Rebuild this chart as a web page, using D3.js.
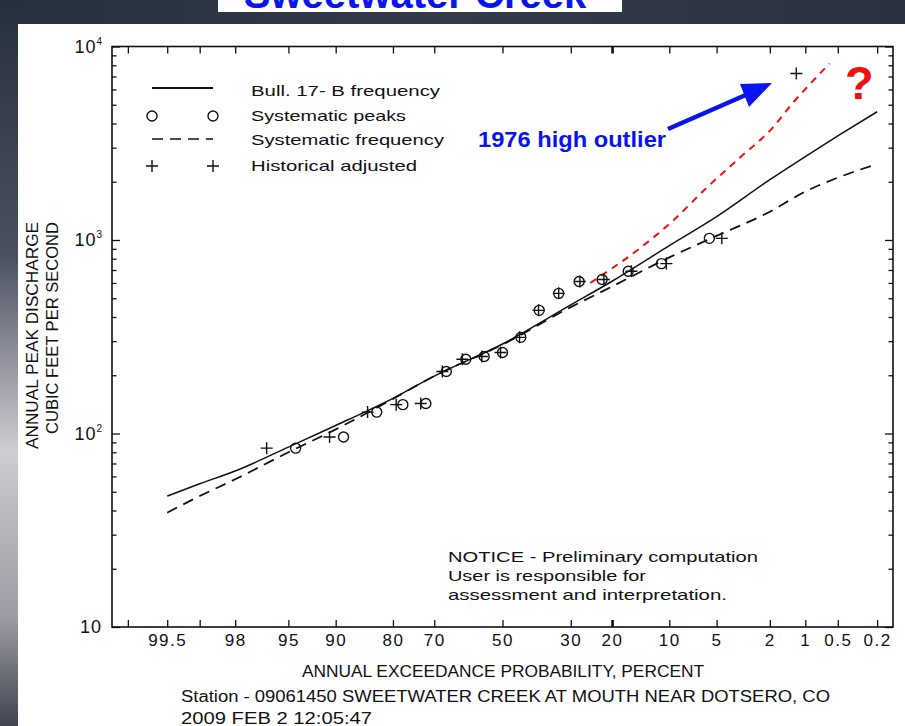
<!DOCTYPE html>
<html>
<head>
<meta charset="utf-8">
<script src="https://cdn.jsdelivr.net/npm/d3@7"></script>
<style>
  body { margin: 0; background: #fff; }
  svg { display: block; font-family: "Liberation Sans", Arial, sans-serif; }
</style>
</head>
<body>
<div id="chart"></div>
<script>
// frequency curves, read at the probability ticks (exceedance %, cfs)
const freqPct = [99.5, 99, 98, 95, 90, 80, 70, 50, 30, 20, 10, 5, 2, 1, 0.5, 0.2];
const bull17b = [47.5, 55, 64, 85, 110, 152, 198, 290, 462, 612, 935, 1320, 2050, 2700, 3450, 4600];
const sysFreq = [39, 47.5, 58, 80, 105, 151, 198, 288, 450, 575, 813, 1050, 1400, 1780, 2100, 2470];

// systematic peaks (circles)
const sysPeakPct = [5.6, 11.1, 16.7, 22.2, 27.8, 33.3, 38.9, 44.4, 50, 55.6, 61.1, 66.7, 72.2, 77.8, 83.3, 88.9, 94.4];
const sysPeakCfs = [1020, 755, 690, 625, 610, 530, 433, 314, 262, 250, 242, 209, 143, 141, 129, 96, 84];

// historically adjusted peaks (plus signs), incl. 1976 outlier
const histPct = [1.2, 4.6, 10.4, 16.1, 21.8, 27.6, 33.3, 39.1, 44.8, 50.6, 56.3, 62.1, 67.8, 73.5, 79.3, 85.0, 90.8, 96.5];
const histCfs = [7250, 1020, 755, 690, 625, 610, 530, 433, 314, 262, 250, 242, 209, 143, 141, 129, 96, 84];

// red hand-drawn "what if" curve
const redPct = [25, 14.6, 9.5, 5.8, 3.4, 1.9, 1.3, 0.9, 0.6];
const redCfs = [600, 905, 1260, 1870, 2670, 3800, 5070, 6430, 8170];

const xTickPct = [99.8, 99.5, 99, 98, 95, 90, 80, 70, 50, 30, 20, 10, 5, 2, 1, 0.5, 0.2];
const xTickLabels = ["", "99.5", "", "98", "95", "90", "80", "70", "50", "30", "20", "10", "5", "2", "1", "0.5", "0.2"];
const yDecades = [10, 100, 1000, 10000];
const yDecadeExp = ["", "2", "3", "4"];

const W = 905, H = 726;
const plot = { left: 112, right: 893, top: 46.5, bottom: 627 };

// inverse standard normal (Acklam)
function probit(p) {
  const a = [-3.969683028665376e+01, 2.209460984245205e+02, -2.759285104469687e+02, 1.383577518672690e+02, -3.066479806614716e+01, 2.506628277459239e+00];
  const b = [-5.447609879822406e+01, 1.615858368580409e+02, -1.556989798598866e+02, 6.680131188771972e+01, -1.328068155288572e+01];
  const c = [-7.784894002430293e-03, -3.223964580411365e-01, -2.400758277161838e+00, -2.549671010029312e+00, 4.374664141464968e+00, 2.938163982698783e+00];
  const d = [7.784695709041462e-03, 3.224671290700398e-01, 2.445134137142996e+00, 3.754408661907416e+00];
  const plow = 0.02425;
  let q, r;
  if (p < plow) {
    q = Math.sqrt(-2 * Math.log(p));
    return (((((c[0]*q+c[1])*q+c[2])*q+c[3])*q+c[4])*q+c[5]) / ((((d[0]*q+d[1])*q+d[2])*q+d[3])*q+1);
  }
  if (p > 1 - plow) {
    q = Math.sqrt(-2 * Math.log(1 - p));
    return -(((((c[0]*q+c[1])*q+c[2])*q+c[3])*q+c[4])*q+c[5]) / ((((d[0]*q+d[1])*q+d[2])*q+d[3])*q+1);
  }
  q = p - 0.5; r = q * q;
  return (((((a[0]*r+a[1])*r+a[2])*r+a[3])*r+a[4])*r+a[5])*q / (((((b[0]*r+b[1])*r+b[2])*r+b[3])*r+b[4])*r+1);
}

const z = d3.scaleLinear().domain([-3, 3]).range([plot.left, plot.right]);
// probability scale usable by d3.axis
const x = p => z(probit(1 - p / 100));
x.copy = () => x;
x.range = () => z.range();
x.domain = () => [99.865, 0.135];

const y = d3.scaleLog().domain([10, 10000]).range([plot.bottom, plot.top]);

const svg = d3.select("#chart").append("svg")
  .attr("width", W).attr("height", H);

// backdrop
const defs = svg.append("defs");
const gTop = defs.append("linearGradient").attr("id", "gTop");
gTop.append("stop").attr("offset", 0).attr("stop-color", "#27303e");
gTop.append("stop").attr("offset", 0.5).attr("stop-color", "#333b49");
gTop.append("stop").attr("offset", 1).attr("stop-color", "#2a3240");
const gLeft = defs.append("linearGradient").attr("id", "gLeft")
  .attr("x1", 0).attr("y1", 0).attr("x2", 0).attr("y2", 1);
gLeft.append("stop").attr("offset", 0).attr("stop-color", "#27303e");
gLeft.append("stop").attr("offset", 0.35).attr("stop-color", "#4a5060");
gLeft.append("stop").attr("offset", 0.62).attr("stop-color", "#cfccd2");
gLeft.append("stop").attr("offset", 0.85).attr("stop-color", "#9c9ca4");
gLeft.append("stop").attr("offset", 1).attr("stop-color", "#40444e");

svg.append("rect").attr("width", W).attr("height", H).attr("fill", "#fff");
svg.append("rect").attr("x", 0).attr("y", 0).attr("width", W).attr("height", 24).attr("fill", "url(#gTop)");
svg.append("rect").attr("x", 0).attr("y", 0).attr("width", 18).attr("height", H).attr("fill", "url(#gLeft)");
svg.append("rect").attr("x", 218).attr("y", 0).attr("width", 404).attr("height", 12).attr("fill", "#fff");
svg.append("text").attr("x", 415).attr("y", 8).attr("text-anchor", "middle")
  .attr("font-size", 40).attr("font-weight", "bold").attr("fill", "#0a14f0")
  .text("Sweetwater Creek");

// axes (ticks point inward)
const bottomAxis = d3.axisBottom(x).tickValues(xTickPct).tickSizeInner(-7).tickSizeOuter(0)
  .tickPadding(7).tickFormat((d, i) => xTickLabels[i]);
const gx = svg.append("g").attr("transform", `translate(0,${plot.bottom})`).call(bottomAxis);
gx.selectAll("text").attr("font-size", 17).attr("letter-spacing", "1.5px")
  .attr("font-family", "Liberation Sans, Arial, sans-serif").attr("fill", "#111");

const gxt = svg.append("g").attr("transform", `translate(0,${plot.top})`)
  .call(d3.axisTop(x).tickValues(xTickPct).tickSizeInner(-7).tickSizeOuter(0).tickFormat(""));

[gx, gxt].forEach(g => {
  g.select(".domain").remove();
  g.selectAll(".tick line").attr("stroke", "#111").attr("stroke-width", d => d === 20 ? 2.6 : 1.3);
});

const yTicks = [];
yDecades.slice(0, 3).forEach(dec => { for (let k = 1; k <= 9; k++) yTicks.push(k * dec); });
yTicks.push(10000);
const isMajor = v => yDecades.includes(v);

const gyl = svg.append("g").attr("transform", `translate(${plot.left},0)`)
  .call(d3.axisLeft(y).tickValues(yTicks).tickSizeOuter(0).tickFormat(""));
const gyr = svg.append("g").attr("transform", `translate(${plot.right},0)`)
  .call(d3.axisRight(y).tickValues(yTicks).tickSizeOuter(0).tickFormat(""));
gyl.selectAll(".tick line").attr("x2", d => isMajor(d) ? 8 : 4.5);
gyr.selectAll(".tick line").attr("x2", d => isMajor(d) ? -8 : -4.5);
[gyl, gyr].forEach(g => {
  g.select(".domain").remove();
  g.selectAll(".tick line").attr("stroke", "#111").attr("stroke-width", 1.3);
});

svg.append("rect").attr("x", plot.left).attr("y", plot.top)
  .attr("width", plot.right - plot.left).attr("height", plot.bottom - plot.top)
  .attr("fill", "none").attr("stroke", "#111").attr("stroke-width", 1.6);

// y tick labels 10, 10^2, 10^3, 10^4
yDecades.forEach((v, i) => {
  const t = svg.append("text").attr("x", 102).attr("y", y(v) + 6).attr("text-anchor", "end")
    .attr("font-size", 18).attr("letter-spacing", "1px").attr("fill", "#111");
  if (yDecadeExp[i]) {
    t.append("tspan").text("10");
    t.append("tspan").attr("dy", -8).attr("font-size", 10).attr("letter-spacing", "0px").text(yDecadeExp[i]);
  } else {
    t.text("10");
  }
});

// axis titles
function label(txt, xx, yy, len, size, rot) {
  const t = svg.append("text").attr("x", xx).attr("y", yy).attr("font-size", size)
    .attr("fill", "#111").attr("textLength", len).attr("lengthAdjust", "spacingAndGlyphs").text(txt);
  if (rot) t.attr("transform", `rotate(-90,${xx},${yy})`);
  return t;
}
label("ANNUAL PEAK DISCHARGE", 38, 449, 227, 16, true);
label("CUBIC FEET PER SECOND", 58, 434, 212, 16, true);
label("ANNUAL EXCEEDANCE PROBABILITY, PERCENT", 302, 677, 402, 16);
label("Station -  09061450   SWEETWATER CREEK AT MOUTH NEAR DOTSERO, CO", 181, 702, 649, 16);
label("2009 FEB 2 12:05:47", 181, 724, 191, 16);

// notice
label("NOTICE - Preliminary computation", 448, 562, 310, 15);
label("User is responsible for", 448, 581, 198, 15);
label("assessment and interpretation.", 448, 600, 279, 15);

// legend
const lg = svg.append("g").attr("stroke", "#111").attr("fill", "none");
lg.append("line").attr("x1", 152).attr("x2", 213).attr("y1", 88).attr("y2", 88).attr("stroke-width", 2.2);
[152, 213].forEach(cx => lg.append("circle").attr("cx", cx).attr("cy", 116).attr("r", 5).attr("stroke-width", 1.4));
lg.append("line").attr("x1", 152).attr("x2", 213).attr("y1", 139).attr("y2", 139)
  .attr("stroke-width", 1.3).attr("stroke-dasharray", "11,7");
[152, 213].forEach(cx => lg.append("path").attr("d", `M${cx - 6},166H${cx + 6}M${cx},160V172`).attr("stroke-width", 1.4));
label("Bull. 17- B frequency", 251, 96, 189, 15);
label("Systematic peaks", 251, 121, 155, 15);
label("Systematic frequency", 251, 145, 193, 15);
label("Historical adjusted", 251, 171, 166, 15);

// curves
const curvePts = vals => freqPct.map((p, i) => ({ p, v: vals[i] }));
const line = d3.line().x(d => x(d.p)).y(d => y(d.v)).curve(d3.curveMonotoneX);

svg.append("path").datum(curvePts(bull17b)).attr("d", line)
  .attr("fill", "none").attr("stroke", "#111").attr("stroke-width", 1.5);
svg.append("path").datum(curvePts(sysFreq)).attr("d", line)
  .attr("fill", "none").attr("stroke", "#111").attr("stroke-width", 1.8).attr("stroke-dasharray", "11,7");

svg.append("path").datum(redPct.map((p, i) => ({ p, v: redCfs[i] }))).attr("d", line)
  .attr("fill", "none").attr("stroke", "#f01010").attr("stroke-width", 2).attr("stroke-dasharray", "7,6");

// points
svg.append("g").selectAll("circle")
  .data(sysPeakPct.map((p, i) => ({ p, v: sysPeakCfs[i] })))
  .join("circle")
  .attr("cx", d => x(d.p)).attr("cy", d => y(d.v)).attr("r", 5)
  .attr("fill", "none").attr("stroke", "#111").attr("stroke-width", 1.4);

svg.append("g").selectAll("path")
  .data(histPct.map((p, i) => ({ p, v: histCfs[i] })))
  .join("path")
  .attr("d", d => { const cx = x(d.p), cy = y(d.v); return `M${cx - 6},${cy}H${cx + 6}M${cx},${cy - 6}V${cy + 6}`; })
  .attr("fill", "none").attr("stroke", "#111").attr("stroke-width", 1.4);

// annotations
svg.append("line").attr("x1", 668).attr("y1", 129).attr("x2", 748).attr("y2", 94)
  .attr("stroke", "#0a14f0").attr("stroke-width", 4.5);
svg.append("polygon").attr("points", "772,83 749,107 740,84").attr("fill", "#0a14f0");
svg.append("text").attr("x", 478).attr("y", 147).attr("font-size", 22).attr("font-weight", "bold")
  .attr("fill", "#0a14f0").attr("textLength", 188).attr("lengthAdjust", "spacingAndGlyphs")
  .text("1976 high outlier");
svg.append("text").attr("x", 845).attr("y", 99).attr("font-size", 47).attr("font-weight", "bold")
  .attr("fill", "#f01010").text("?");
</script>
</body>
</html>
